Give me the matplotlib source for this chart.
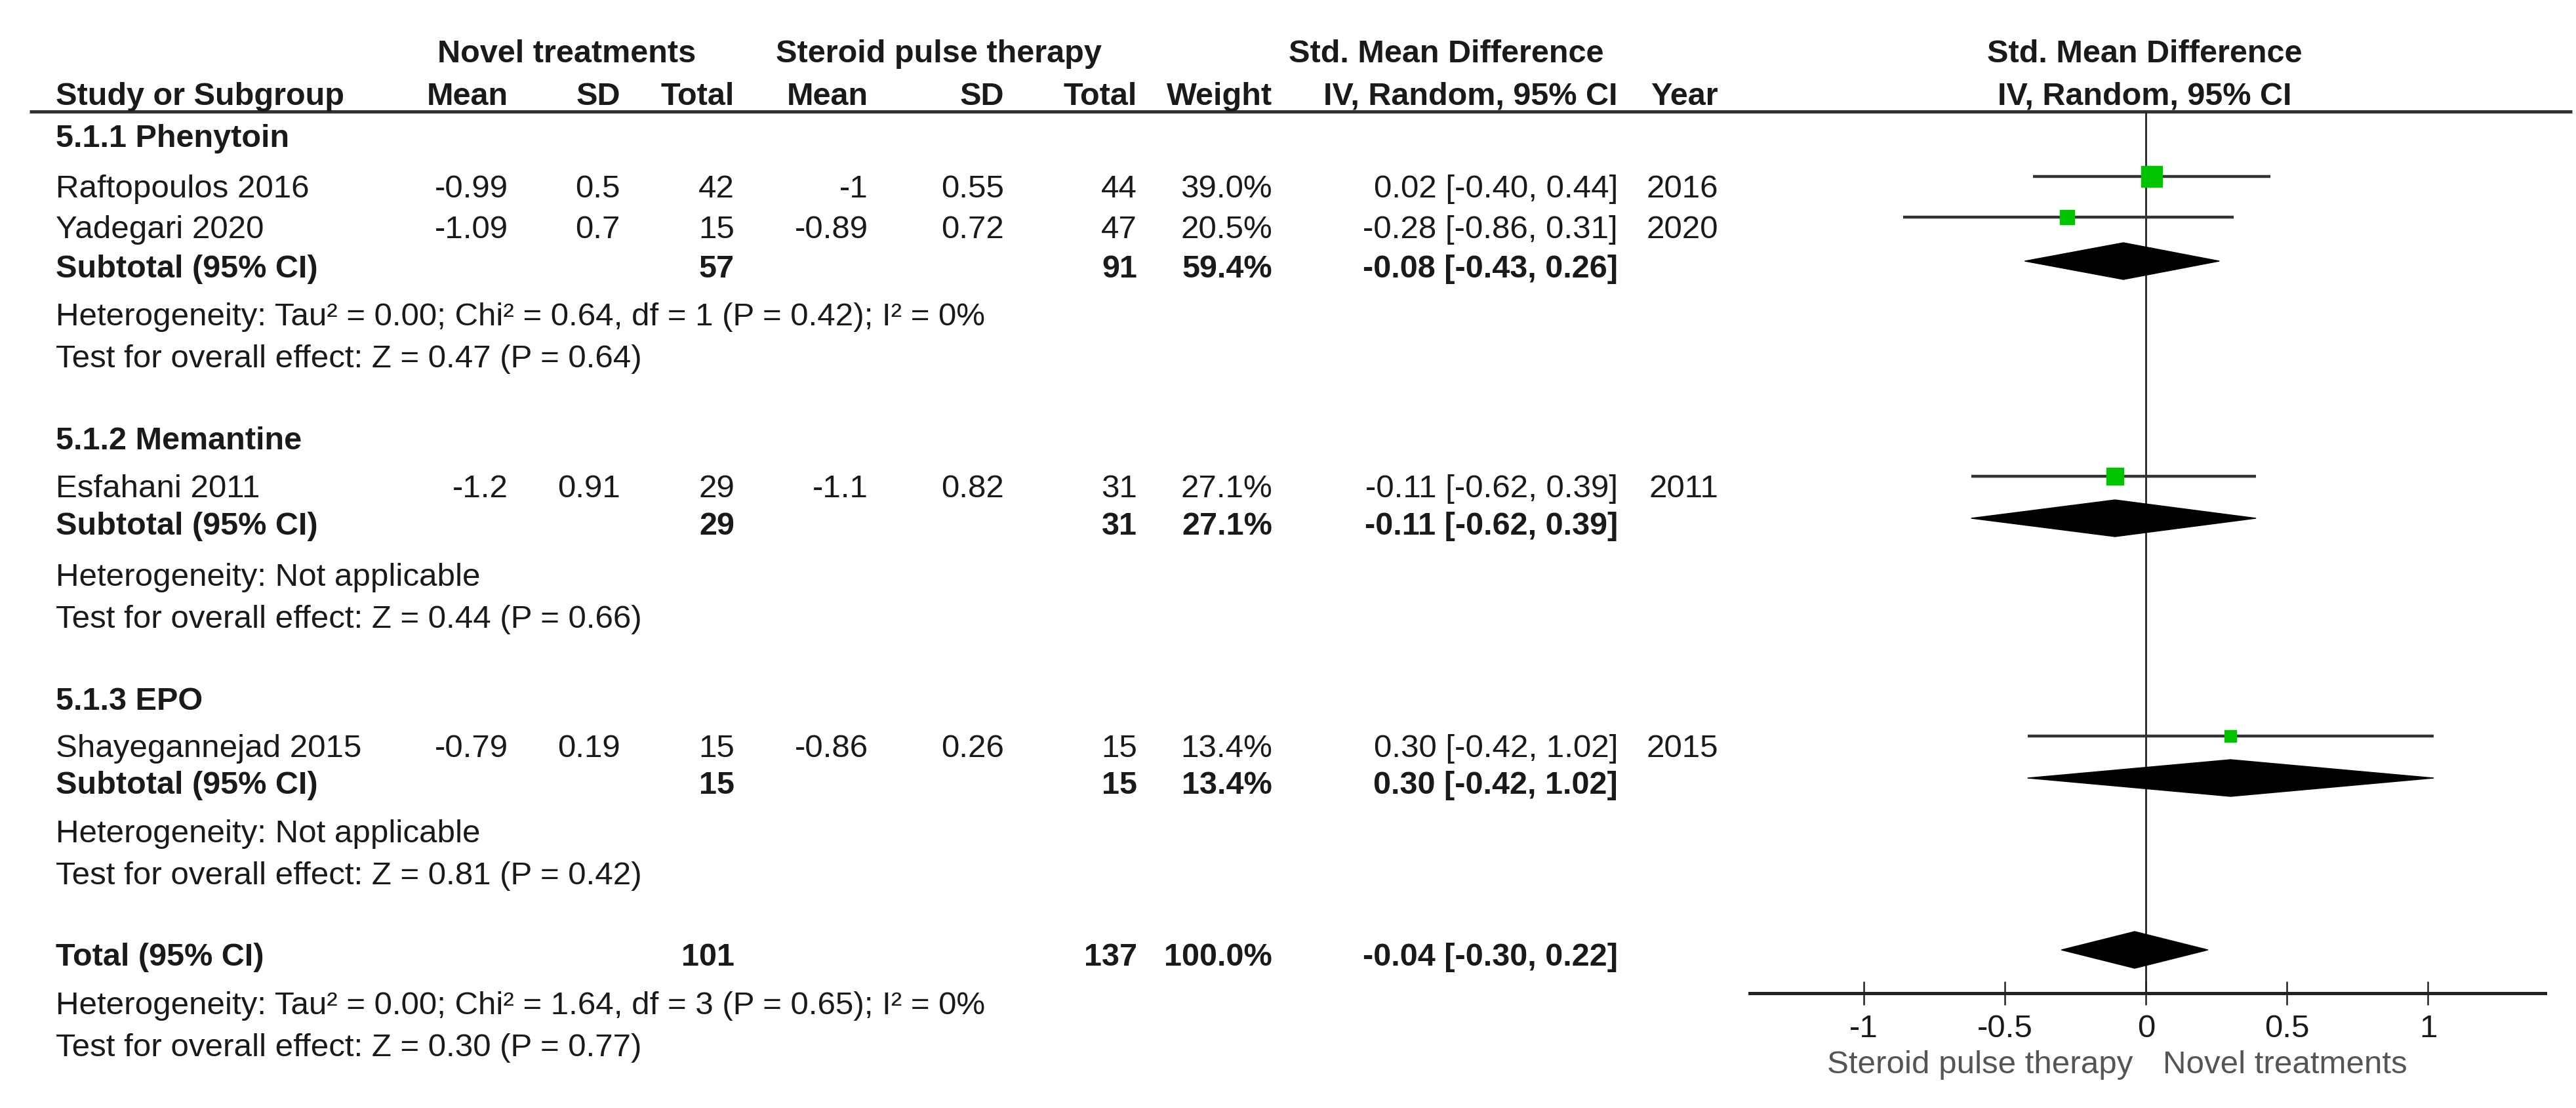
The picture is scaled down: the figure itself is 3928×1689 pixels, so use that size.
import matplotlib
matplotlib.use("Agg")
import matplotlib.pyplot as plt
from matplotlib.patches import Polygon

plt.rcParams['font.family'] = ['Liberation Sans', 'DejaVu Sans']
plt.rcParams['axes.unicode_minus'] = False

# ---- data ----
studies = ["Raftopoulos 2016", "Yadegari 2020", "Esfahani 2011", "Shayegannejad 2015"]
study_group = [0, 0, 1, 2]
mean_nt = [-0.99, -1.09, -1.2, -0.79]
sd_nt = [0.5, 0.7, 0.91, 0.19]
n_nt = [42, 15, 29, 15]
mean_sp = [-1, -0.89, -1.1, -0.86]
sd_sp = [0.55, 0.72, 0.82, 0.26]
n_sp = [44, 47, 31, 15]
weight = [39.0, 20.5, 27.1, 13.4]
smd = [0.02, -0.28, -0.11, 0.30]
ci_lo = [-0.40, -0.86, -0.62, -0.42]
ci_hi = [0.44, 0.31, 0.39, 1.02]
year = [2016, 2020, 2011, 2015]

groups = ["5.1.1 Phenytoin", "5.1.2 Memantine", "5.1.3 EPO"]
sub_n_nt = [57, 29, 15]
sub_n_sp = [91, 31, 15]
sub_weight = [59.4, 27.1, 13.4]
sub_smd = [-0.08, -0.11, 0.30]
sub_lo = [-0.43, -0.62, -0.42]
sub_hi = [0.26, 0.39, 1.02]
sub_het = ["Heterogeneity: Tau² = 0.00; Chi² = 0.64, df = 1 (P = 0.42); I² = 0%",
           "Heterogeneity: Not applicable",
           "Heterogeneity: Not applicable"]
sub_test = ["Test for overall effect: Z = 0.47 (P = 0.64)",
            "Test for overall effect: Z = 0.44 (P = 0.66)",
            "Test for overall effect: Z = 0.81 (P = 0.42)"]

tot_n_nt = 101
tot_n_sp = 137
tot_weight = 100.0
tot_smd, tot_lo, tot_hi = -0.04, -0.30, 0.22
tot_het = "Heterogeneity: Tau² = 0.00; Chi² = 1.64, df = 3 (P = 0.65); I² = 0%"
tot_test = "Test for overall effect: Z = 0.30 (P = 0.77)"

ticks = [-1, -0.5, 0, 0.5, 1]
tick_labels = ["-1", "-0.5", "0", "0.5", "1"]
left_label = "Steroid pulse therapy"
right_label = "Novel treatments"

# ---- layout (pixel rows / columns) ----
W, H = 3928, 1689
group_y = [211, 672, 1070]
study_y = [288, 350, 745, 1141]
sub_y = [410, 802, 1198]
het_y = [483, 880, 1271]
test_y = [548, 944, 1336]
total_y, total_het_y, total_test_y = 1460, 1534, 1598
head1_y, head2_y, line_y = 82, 147, 170
axis_y = 1514
x_left = 85
col_x = [775, 946, 1120, 1324, 1531, 1734, 1940, 2467, 2620]
fp_left, fp_right = 2668, 3881
xlim = (-1.405, 1.415)

FS = 35.5
FSB = 35
TXT = "#1a1a1a"
GREEN = "#00c400"

fig = plt.figure(figsize=(W / 100, H / 100), dpi=100)
tab = fig.add_axes([0, 0, 1, 1])
tab.set_xlim(0, W)
tab.set_ylim(H, 0)
tab.axis("off")


def t(x, y, s, ha="right", bold=False, color=TXT):
    tab.text(x, y, s, ha=ha, va="center", fontsize=FSB if bold else FS, color=color,
             fontweight="bold" if bold else "normal")


# header
t(864, head1_y, "Novel treatments", ha="center", bold=True)
t(1431, head1_y, "Steroid pulse therapy", ha="center", bold=True)
t(2205, head1_y, "Std. Mean Difference", ha="center", bold=True)
t(3270, head1_y, "Std. Mean Difference", ha="center", bold=True)
t(x_left, head2_y, "Study or Subgroup", ha="left", bold=True)
for x, s in zip(col_x, ["Mean", "SD", "Total", "Mean", "SD", "Total", "Weight",
                        "IV, Random, 95% CI", "Year"]):
    t(x, head2_y, s, bold=True)
t(3270, head2_y, "IV, Random, 95% CI", ha="center", bold=True)
tab.hlines(line_y, 45, 3922, color="#333333", lw=3.6)

# study rows
for i, name in enumerate(studies):
    y = study_y[i]
    t(x_left, y, name, ha="left")
    vals = [f"{mean_nt[i]:g}", f"{sd_nt[i]:g}", str(n_nt[i]),
            f"{mean_sp[i]:g}", f"{sd_sp[i]:g}", str(n_sp[i]),
            f"{weight[i]:.1f}%",
            f"{smd[i]:.2f} [{ci_lo[i]:.2f}, {ci_hi[i]:.2f}]", str(year[i])]
    for x, s in zip(col_x, vals):
        t(x, y, s)

# subgroup rows
for g, name in enumerate(groups):
    t(x_left, group_y[g], name, ha="left", bold=True)
    y = sub_y[g]
    t(x_left, y, "Subtotal (95% CI)", ha="left", bold=True)
    t(col_x[2], y, str(sub_n_nt[g]), bold=True)
    t(col_x[5], y, str(sub_n_sp[g]), bold=True)
    t(col_x[6], y, f"{sub_weight[g]:.1f}%", bold=True)
    t(col_x[7], y, f"{sub_smd[g]:.2f} [{sub_lo[g]:.2f}, {sub_hi[g]:.2f}]", bold=True)
    t(x_left, het_y[g], sub_het[g], ha="left")
    t(x_left, test_y[g], sub_test[g], ha="left")

# total
t(x_left, total_y, "Total (95% CI)", ha="left", bold=True)
t(col_x[2], total_y, str(tot_n_nt), bold=True)
t(col_x[5], total_y, str(tot_n_sp), bold=True)
t(col_x[6], total_y, f"{tot_weight:.1f}%", bold=True)
t(col_x[7], total_y, f"{tot_smd:.2f} [{tot_lo:.2f}, {tot_hi:.2f}]", bold=True)
t(x_left, total_het_y, tot_het, ha="left")
t(x_left, total_test_y, tot_test, ha="left")

# ---- forest plot ----
fp = fig.add_axes([fp_left / W, (H - axis_y) / H, (fp_right - fp_left) / W, axis_y / H])
fp.set_xlim(*xlim)
fp.set_ylim(axis_y, 0)
fp.patch.set_alpha(0)
for side in ["top", "left", "right"]:
    fp.spines[side].set_visible(False)
fp.spines["bottom"].set_linewidth(3.6)
fp.spines["bottom"].set_color("#222222")
fp.set_yticks([])
fp.set_xticks(ticks)
fp.set_xticklabels(tick_labels)
fp.tick_params(axis="x", direction="inout", length=26, width=1.8, pad=10,
               labelsize=FS, labelcolor=TXT, color="#222222")

fp.vlines(0, line_y, axis_y, color="#222222", lw=2.0)

for i in range(len(studies)):
    y = study_y[i] - 19
    fp.hlines(y, ci_lo[i], ci_hi[i], color="#333333", lw=3.2)
    fp.plot(smd[i], y, marker="s", ms=3.6 * weight[i] ** 0.5, color=GREEN,
            mec=GREEN, ls="none", zorder=3)


def diamond(lo, est, hi, y, h=28):
    fp.add_patch(Polygon([(lo, y), (est, y - h), (hi, y), (est, y + h)],
                         closed=True, fc="black", ec="black", lw=1, zorder=3))


for g in range(len(groups)):
    diamond(sub_lo[g], sub_smd[g], sub_hi[g], sub_y[g] - 12)
diamond(tot_lo, tot_smd, tot_hi, total_y - 12)

tab.text(3252, 1623, left_label, ha="right", va="center", fontsize=FS, color="#555555")
tab.text(3298, 1623, right_label, ha="left", va="center", fontsize=FS, color="#555555")

fig.savefig("out.png", dpi=100)
